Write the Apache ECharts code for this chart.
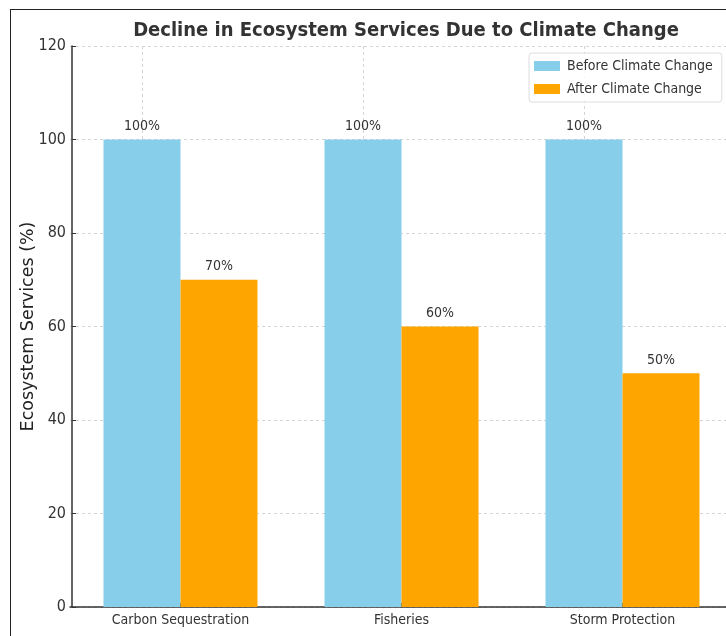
<!DOCTYPE html>
<html>
<head>
<meta charset="utf-8">
<script src="https://cdn.jsdelivr.net/npm/echarts@6/dist/echarts.min.js"></script>
<style>
  html, body { margin: 0; padding: 0; background: #fff; overflow: hidden; width: 726px; height: 636px; }
  #frame { position: absolute; left: 10px; top: 9px; width: 760px; height: 680px; border: 1.5px solid #222; box-sizing: border-box; }
  /* the plot runs past the right edge of the window, so the canvas is wider than the page */
  #chart { position: absolute; left: 0; top: 0; width: 760px; height: 636px; }
</style>
</head>
<body>
<div id="frame"></div>
<div id="chart"></div>
<script>
// Ecosystem service levels before and after climate change (percent)
const categories = ['Carbon Sequestration', 'Fisheries', 'Storm Protection'];
const beforeValues = [100, 100, 100];
const afterValues = [70, 60, 50];
const seriesNames = ['Before Climate Change', 'After Climate Change'];
const yTicks = [0, 20, 40, 60, 80, 100, 120];

const FONT = '"DejaVu Sans Condensed", "DejaVu Sans", sans-serif';

const chart = echarts.init(document.getElementById('chart'), null, { renderer: 'canvas' });

const valueLabel = {
  show: true,
  position: 'top',
  distance: 6,
  formatter: p => p.value + '%',
  color: '#333',
  fontSize: 14,
  fontFamily: FONT
};

chart.setOption({
  animation: false,
  textStyle: { fontFamily: FONT },
  title: {
    text: 'Decline in Ecosystem Services Due to Climate Change',
    left: 401,
    textAlign: 'center',
    top: 16,
    textStyle: { fontSize: 20, fontWeight: 'bold', color: '#333', fontFamily: FONT }
  },
  legend: {
    data: seriesNames,
    orient: 'vertical',
    left: 529,
    top: 53,
    itemWidth: 26,
    itemHeight: 10,
    itemGap: 9,
    padding: [6, 9, 6, 5],
    borderColor: '#ddd',
    borderWidth: 1,
    borderRadius: 3,
    backgroundColor: 'rgba(255,255,255,0.8)',
    textStyle: { fontSize: 14, color: '#333', fontFamily: FONT, padding: [0, 0, 0, 2] },
    icon: 'rect'
  },
  grid: { left: 70, top: 46, width: 663, height: 561, containLabel: false },
  xAxis: {
    type: 'category',
    data: categories,
    boundaryGap: true,
    axisLine: { lineStyle: { color: '#333', width: 1.5 } },
    axisTick: { show: true, alignWithLabel: true, inside: true, length: 4, lineStyle: { color: '#333' } },
    axisLabel: { fontSize: 14, color: '#333', margin: 6, fontFamily: FONT },
    splitLine: { show: false }
  },
  yAxis: {
    type: 'value',
    min: yTicks[0],
    max: yTicks[yTicks.length - 1],
    interval: 20,
    offset: -2,
    name: 'Ecosystem Services (%)',
    nameLocation: 'middle',
    nameGap: 35,
    nameMoveOverlap: false,
    nameTextStyle: { fontSize: 17.5, color: '#222', fontFamily: '"DejaVu Sans", sans-serif' },
    axisLine: { show: true, lineStyle: { color: '#333', width: 1.5 } },
    axisTick: { show: true, inside: true, length: 4, lineStyle: { color: '#333' } },
    axisLabel: { fontSize: 16, color: '#333', margin: 6, fontFamily: FONT },
    splitLine: { show: true, lineStyle: { color: '#d4d4d4', type: [3, 3], width: 1 } }
  },
  series: [
    {
      name: seriesNames[0],
      type: 'bar',
      data: beforeValues,
      barWidth: 77,
      barGap: '0%',
      itemStyle: { color: '#87CEEB' },
      label: valueLabel,
      z: 2,
      markLine: {
        silent: true,
        symbol: 'none',
        label: { show: false },
        lineStyle: { color: '#d4d4d4', type: [3, 3], width: 1 },
        data: categories.map(c => ({ xAxis: c })),
        z: 1
      }
    },
    {
      name: seriesNames[1],
      type: 'bar',
      data: afterValues,
      barWidth: 77,
      itemStyle: { color: '#FFA500' },
      label: valueLabel,
      z: 2
    }
  ]
});
</script>
</body>
</html>
